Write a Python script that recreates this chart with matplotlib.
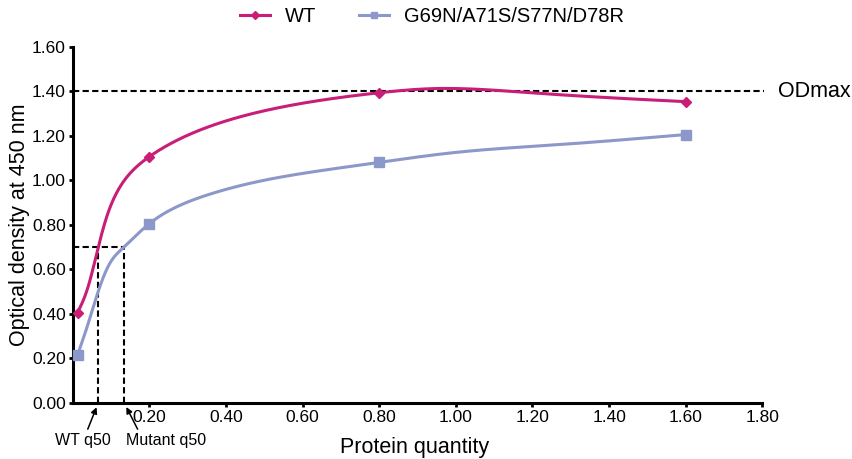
import numpy as np
import matplotlib
matplotlib.use("Agg")
import matplotlib.pyplot as plt

plt.rcParams['font.family'] = ['Liberation Sans', 'DejaVu Sans']

# Data (markers)
x_pts = [0.0125, 0.2, 0.8, 1.6]
wt = [0.405, 1.106, 1.393, 1.353]
mut = [0.213, 0.805, 1.08, 1.205]
labels = ["WT", "G69N/A71S/S77N/D78R"]
od_max = 1.40
q50_level = 0.70
wt_q50 = 0.0667
mut_q50 = 0.134
# fitted curves, knots
wt_curve_x = [0.0125, 0.045, 0.0667, 0.0886, 0.1495, 0.2, 0.437, 0.8, 0.95, 1.22, 1.6]
wt_curve_y = [0.405, 0.551, 0.70, 0.836, 1.031, 1.106, 1.285, 1.393, 1.412, 1.39, 1.353]
mut_curve_x = [0.0125, 0.032, 0.0536, 0.1, 0.134, 0.2, 0.35, 0.524, 0.8, 1.0, 1.31, 1.6]
mut_curve_y = [0.213, 0.312, 0.431, 0.636, 0.70, 0.805, 0.933, 1.008, 1.08, 1.125, 1.165, 1.205]
xticks = [0.2, 0.4, 0.6, 0.8, 1.0, 1.2, 1.4, 1.6, 1.8]
yticks = [0.0, 0.2, 0.4, 0.6, 0.8, 1.0, 1.2, 1.4, 1.6]


def natural_spline(xk, yk, xs):
    xk = np.asarray(xk, float); yk = np.asarray(yk, float)
    n = len(xk); h = np.diff(xk)
    A = np.zeros((n, n)); b = np.zeros(n)
    A[0, 0] = 1; A[-1, -1] = 1
    for i in range(1, n - 1):
        A[i, i - 1] = h[i - 1]; A[i, i] = 2 * (h[i - 1] + h[i]); A[i, i + 1] = h[i]
        b[i] = 3 * ((yk[i + 1] - yk[i]) / h[i] - (yk[i] - yk[i - 1]) / h[i - 1])
    c = np.linalg.solve(A, b)
    idx = np.clip(np.searchsorted(xk, xs) - 1, 0, n - 2)
    bb = (yk[1:] - yk[:-1]) / h - h * (2 * c[:-1] + c[1:]) / 3
    dd = (c[1:] - c[:-1]) / (3 * h)
    dx = xs - xk[idx]
    return yk[idx] + bb[idx] * dx + c[idx] * dx**2 + dd[idx] * dx**3


def smooth_curve(xk, yk, xs):
    # spline in sqrt(x) space for a smooth saturating shape
    return natural_spline(np.sqrt(xk), yk, np.sqrt(xs))


fig = plt.figure(figsize=(8.53, 4.59), dpi=100)
ax = fig.add_axes([72.8 / 853, 1 - 402.7 / 459, (762.3 - 72.8) / 853, 356 / 459])

wt_color = '#C81E78'
mut_color = '#8C98C9'

xs = np.linspace(x_pts[0], x_pts[-1], 1500)
ax.plot(xs, smooth_curve(wt_curve_x, wt_curve_y, xs), color=wt_color, lw=2.2, zorder=3,
        solid_capstyle='round')
ax.plot(xs, smooth_curve(mut_curve_x, mut_curve_y, xs), color=mut_color, lw=2.2, zorder=3,
        solid_capstyle='round')
ax.plot(x_pts, wt, linestyle='none', marker='D', ms=5.5, color=wt_color, zorder=4, clip_on=False)
ax.plot(x_pts, mut, linestyle='none', marker='s', ms=6.5, color=mut_color, zorder=4, clip_on=False)

# legend proxies
h1, = ax.plot([], [], color=wt_color, lw=2.2, marker='D', ms=4.5, label=labels[0])
h2, = ax.plot([], [], color=mut_color, lw=2.2, marker='s', ms=5, label=labels[1])
fig.legend(handles=[h1, h2], loc='center', bbox_to_anchor=(432 / 853, 1 - 17 / 459), ncol=2,
           frameon=False, fontsize=14.5, handlelength=1.5, columnspacing=2.1,
           handletextpad=0.75, borderpad=0, borderaxespad=0)

# dashed reference lines
dash = (0, (3, 1.6))
ax.plot([0, 1.805], [od_max, od_max], color='black', ls=dash, lw=1.5, clip_on=False, zorder=2)
ax.text(1.84, od_max, 'ODmax', fontsize=15.5, va='center', ha='left')
ax.plot([0, mut_q50], [q50_level, q50_level], color='black', ls=dash, lw=1.5, zorder=2)
ax.plot([wt_q50, wt_q50], [0, q50_level], color='black', ls=dash, lw=1.5, zorder=2)
ax.plot([mut_q50, mut_q50], [0, q50_level], color='black', ls=dash, lw=1.5, zorder=2)

ax.annotate('WT q50', xy=(wt_q50, 0), xycoords='data', xytext=(-15, -38),
            textcoords='offset pixels', fontsize=11.5, ha='center', va='center',
            annotation_clip=False,
            arrowprops=dict(arrowstyle='-|>', color='black', lw=1.1, mutation_scale=9,
                            shrinkA=1, shrinkB=3.5, relpos=(0.55, 1.0)))
ax.annotate('Mutant q50', xy=(mut_q50, 0), xycoords='data', xytext=(42, -38),
            textcoords='offset pixels', fontsize=11.5, ha='center', va='center',
            annotation_clip=False,
            arrowprops=dict(arrowstyle='-|>', color='black', lw=1.1, mutation_scale=9,
                            shrinkA=1, shrinkB=3.5, relpos=(0.17, 1.0)))

ax.set_xlim(0, 1.8)
ax.set_ylim(0, 1.6)
ax.set_xticks(xticks)
ax.set_xticklabels([f'{v:.2f}' for v in xticks])
ax.set_yticks(yticks)
ax.set_yticklabels([f'{v:.2f}' for v in yticks])
ax.tick_params(labelsize=12.5, width=2, length=3, direction='out', pad=2)
for s in ['top', 'right']:
    ax.spines[s].set_visible(False)
for s in ['left', 'bottom']:
    ax.spines[s].set_linewidth(2.2)
fig.text(415 / 853, 1 - 448 / 459, 'Protein quantity', fontsize=15.5, ha='center', va='center')
fig.text(20 / 853, 1 - 225 / 459, 'Optical density at 450 nm', fontsize=15.5, ha='center',
         va='center', rotation=90)

fig.savefig('out.png', dpi=100)
